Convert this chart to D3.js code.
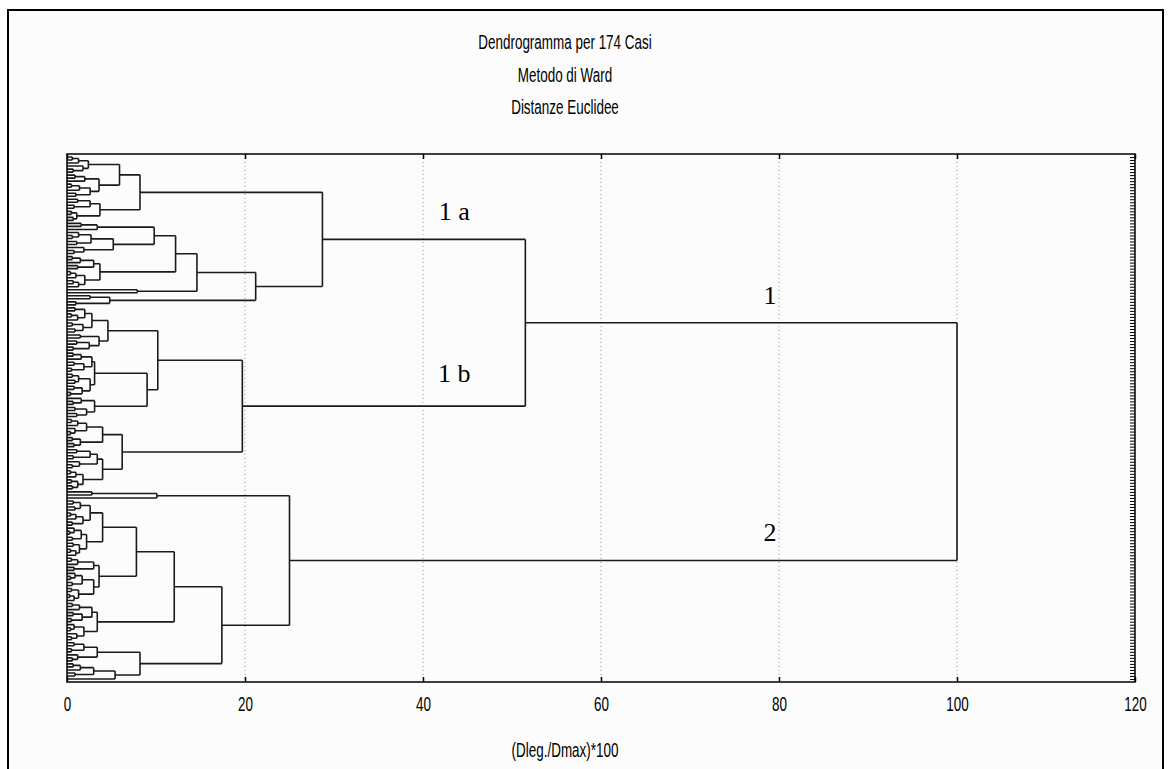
<!doctype html>
<html lang="it">
<head>
    <meta charset="UTF-8">
    <meta name="viewport" content="width=device-width, initial-scale=1">
    <title>Dendrogramma per 174 Casi</title>
    <style>
        body { margin: 0; background: #fff; }
        .narrow { font-family: 'Liberation Sans', Arial, sans-serif; font-size: 19.5px; fill: #000; }
        .group-label { font-family: 'Liberation Serif', 'Times New Roman', serif; font-size: 26px; fill: #000; }
    </style>
</head>
<body>
<script src="https://cdn.jsdelivr.net/npm/d3@7"></script>
<script>

    const titles = ['Dendrogramma per 174 Casi', 'Metodo di Ward', 'Distanze Euclidee']
    const xTicks = [0, 20, 40, 60, 80, 100, 120]
    const xLabel = '(Dleg./Dmax)*100'
    const nCases = 174

    // every node is [merge distance, upper branch, lower branch], 0 = one case

    // group 1a
    const a1 = [2.4, [1.3, [0.6, 0, 0], 0], [1.8, 0, [0.7, 0, 0]]]
    const a2 = [3.6, [2.0, [0.9, 0, 0], 0], [2.6, [1.4, [0.5, 0, 0], 0], [1.0, 0, 0]]]
    const b2 = [3.7, [2.6, [1.2, 0, 0], [0.8, 0, 0]], [1.1, [0.5, 0, 0], [0.7, 0, 0]]]
    const c1 = [3.4, [1.6, 0, 0], 0]
    const c2 = [5.2, [2.7, [1.3, 0, [0.6, 0, 0]], [1.1, 0, 0]], [1.9, 0, [0.8, 0, 0]]]
    const d2 = [3.7, [3.0, [1.5, [0.6, 0, 0], 0], [1.2, 0, 0]], [2.0, [1.0, [0.4, 0, 0], 0], [1.3, [0.7, 0, 0], 0]]]
    const e2 = [7.9, 0, 0]
    const f2 = [4.8, [2.6, 0, 0], [1.0, 0, 0]]
    const group1a = [28.7, [8.2, [5.9, a1, a2], b2], [21.2, [14.6, [12.2, [9.8, c1, c2], d2], e2], f2]]

    // group 1b
    const g1 = [2.8, [2.0, [0.9, 0, 0], [1.2, [0.5, 0, 0], 0]], [1.8, [0.6, 0, 0], [0.9, 0, 0]]]
    const g2 = [3.6, [1.5, 0, 0], [2.5, [1.1, 0, 0], [0.7, 0, 0]]]
    const i1 = [3.1, [2.8, [1.6, [0.7, 0, 0], 0], [1.9, [0.8, 0, 0], [0.5, 0, 0]]],
                     [2.6, [1.3, [0.6, 0, 0], [0.9, 0, 0]], [1.7, [0.8, 0, 0], [0.4, 0, 0]]]]
    const i2 = [3.1, [1.6, 0, [0.7, 0, 0]], [2.2, [0.9, 0, 0], [1.1, 0, 0]]]
    const j1 = [4.0, [2.2, [1.2, [0.5, 0, 0], 0], [0.9, 0, [0.4, 0, 0]]], [1.5, [0.6, 0, 0], [0.8, 0, 0]]]
    const j2 = [4.0, [3.4, [2.6, [1.1, 0, 0], [0.7, 0, 0]], [1.4, 0, [0.6, 0, 0]]],
                     [1.8, [1.0, [0.4, 0, 0], 0], [1.2, [0.5, 0, 0], [0.6, 0, 0]]]]
    const group1b = [19.7, [10.2, [4.6, g1, g2], [9.0, i1, i2]], [6.2, j1, j2]]

    // group 2
    const k = [10.1, [2.8, 0, 0], 0]
    const n1 = [4.0, [2.6, [1.5, [0.7, 0, 0], [0.9, 0, 0]], [1.8, [1.0, [0.4, 0, 0], 0], [0.6, 0, 0]]],
                     [2.2, [1.6, [0.8, 0, [0.3, 0, 0]], [0.6, 0, 0]], [1.4, [0.7, 0, 0], [1.0, [0.4, 0, 0], 0]]]]
    const n2 = [3.6, [3.0, [1.2, [0.5, 0, 0], 0], [0.8, 0, 0]],
                     [3.0, [1.7, [0.9, 0, [0.4, 0, 0]], [0.6, 0, 0]], [1.3, [0.5, 0, 0], [0.8, [0.3, 0, 0], 0]]]]
    const m2 = [3.4, [2.8, [1.4, [0.6, 0, 0], 0], [1.7, [0.7, 0, 0], [0.5, 0, 0]]],
                     [1.9, [0.8, 0, [0.4, 0, 0]], [1.1, 0, [0.5, 0, 0]]]]
    const o1 = [3.4, [1.9, [0.8, 0, 0], [0.5, 0, 0]], [1.2, 0, [0.6, 0, 0]]]
    const o2 = [5.4, [3.0, [1.5, [0.7, 0, 0], 0], [0.9, 0, 0]], 0]
    const group2 = [25.0, k, [17.4, [12.05, [7.8, n1, n2], m2], [8.2, o1, o2]]]

    const tree = [100, [51.5, group1a, group1b], group2]
    const groupNames = ['1', '1 a', '1 b', '2']

    const width = 1172
    const height = 769
    const plot = {left: 67, right: 1135, top: 154, bottom: 682}
    const squeeze = 'scale(0.69, 1)'   // the original font is a tall, narrow one

    const svg = d3.select('body')
        .append('svg')
        .attr('width', width)
        .attr('height', height)

    // outer panel
    svg.append('rect')
        .attr('x', 8)
        .attr('y', 10)
        .attr('width', 1155)
        .attr('height', height)
        .attr('fill', '#fcfcfc')
        .attr('stroke', '#000')
        .attr('stroke-width', 2)

    svg.selectAll('.title')
        .data(titles)
        .enter()
        .append('g')
        .attr('transform', (d, i) => `translate(565, ${49 + i * 32.5})`)
        .append('text')
        .attr('class', 'narrow title')
        .attr('transform', squeeze)
        .attr('text-anchor', 'middle')
        .text(d => d)

    const x = d3.scaleLinear().domain([0, 120]).range([plot.left, plot.right])
    const y = d3.scaleLinear().domain([-1, nCases]).range([plot.top, plot.bottom])

    // grid
    svg.selectAll('.grid')
        .data(xTicks.slice(1, -1))
        .enter()
        .append('line')
        .attr('x1', d => x(d))
        .attr('x2', d => x(d))
        .attr('y1', plot.top)
        .attr('y2', plot.bottom)
        .attr('stroke', '#999')
        .attr('stroke-width', 1)
        .attr('stroke-dasharray', '1,3')

    // tree layout: cases evenly down, parents in the middle of their branches
    const root = d3.hierarchy(tree, d => Array.isArray(d) ? d.slice(1) : null)
    root.leaves().forEach((leaf, i) => { leaf.y = y(i) })
    root.eachAfter(d => {
        d.h = d.children ? d.data[0] : 0
        if (d.children) d.y = d3.mean(d.children, c => c.y)
    })

    const links = []
    root.each(d => {
        if (!d.children) return
        const ys = d.children.map(c => c.y)
        links.push(`M${x(d.h)},${d3.min(ys)}V${d3.max(ys)}`)
        d.children.forEach(c => links.push(`M${x(c.h)},${c.y}H${x(d.h)}`))
    })
    svg.append('path')
        .attr('d', links.join(''))
        .attr('fill', 'none')
        .attr('stroke', '#1a1a1a')
        .attr('stroke-width', 1.6)

    // axes
    svg.append('g')
        .attr('transform', `translate(0, ${plot.bottom})`)
        .call(d3.axisBottom(x).tickValues(xTicks).tickSize(-5).tickPadding(15))
        .call(g => g.select('.domain').remove())
        .call(g => g.selectAll('line').attr('stroke', '#000').attr('stroke-width', 1.5))
        .call(g => g.selectAll('text')
            .attr('class', 'narrow')
            .attr('transform', squeeze)
            .attr('font-size', null)
            .attr('font-family', null))

    svg.append('g')
        .attr('transform', `translate(0, ${plot.top})`)
        .call(d3.axisTop(x).tickValues(xTicks).tickSize(-5).tickFormat(''))
        .call(g => g.select('.domain').remove())
        .call(g => g.selectAll('line').attr('stroke', '#000').attr('stroke-width', 1.5))

    svg.append('g')
        .attr('transform', `translate(${plot.right}, 0)`)
        .call(d3.axisLeft(y).tickValues(d3.range(nCases)).tickSize(5).tickFormat(''))
        .call(g => g.select('.domain').remove())
        .call(g => g.selectAll('line').attr('stroke', '#000').attr('stroke-width', 1))

    svg.append('rect')
        .attr('x', plot.left)
        .attr('y', plot.top)
        .attr('width', plot.right - plot.left)
        .attr('height', plot.bottom - plot.top)
        .attr('fill', 'none')
        .attr('stroke', '#000')
        .attr('stroke-width', 1.5)

    svg.append('g')
        .attr('transform', 'translate(565, 757)')
        .append('text')
        .attr('class', 'narrow')
        .attr('transform', squeeze)
        .attr('text-anchor', 'middle')
        .text(xLabel)

    // group labels above their branches
    const g1node = root.children[0]
    const groupNodes = [g1node, g1node.children[0], g1node.children[1], root.children[1]]
    svg.selectAll('.group-label')
        .data(groupNames)
        .enter()
        .append('text')
        .attr('class', 'group-label')
        .attr('x', (d, i) => i === 0 || i === 3 ? x(79) : x(43.5))
        .attr('y', (d, i) => groupNodes[i].y - (i === 2 ? 24 : 19))
        .attr('text-anchor', 'middle')
        .text(d => d)

</script>
</body>
</html>
